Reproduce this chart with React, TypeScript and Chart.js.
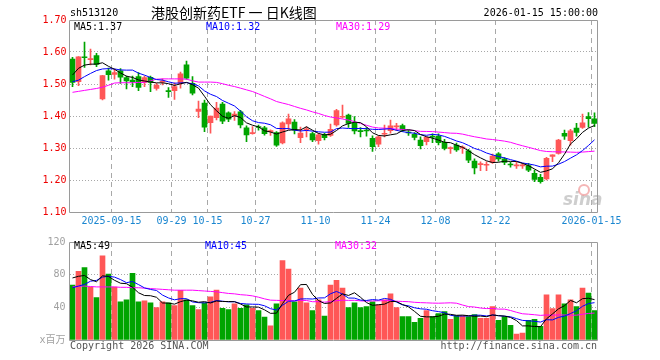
import React, { useEffect, useRef } from 'react';
import { Chart, registerables } from 'chart.js';

Chart.register(...registerables);

// ---------------- data ----------------
const TICK_INDEX = [7, 17, 23, 31, 41, 51, 61, 71, 87];
const TICK_LABELS = ['2025-09-15', '09-29', '10-15', '10-27', '11-10', '11-24', '12-08', '12-22', '2026-01-15'];
const PRICE_TICKS = [1.1, 1.2, 1.3, 1.4, 1.5, 1.6, 1.7];
const VOLUME_TICKS = [0, 40, 80, 120];

const OPEN = [1.578, 1.507, 1.584, 1.576, 1.589, 1.453, 1.541, 1.530, 1.541, 1.520,
  1.512, 1.523, 1.505, 1.521, 1.486, 1.506, 1.477, 1.479, 1.502, 1.560,
  1.502, 1.414, 1.440, 1.379, 1.395, 1.437, 1.410, 1.401, 1.413, 1.363,
  1.345, 1.366, 1.363, 1.351, 1.348, 1.316, 1.375, 1.381, 1.332, 1.357,
  1.345, 1.323, 1.342, 1.339, 1.372, 1.396, 1.403, 1.377, 1.352, 1.355,
  1.330, 1.312, 1.343, 1.354, 1.366, 1.370, 1.349, 1.343, 1.325, 1.320,
  1.336, 1.337, 1.318, 1.298, 1.309, 1.300, 1.291, 1.259, 1.248, 1.246,
  1.255, 1.282, 1.266, 1.248, 1.244, 1.244, 1.245, 1.221, 1.208, 1.203,
  1.274, 1.283, 1.346, 1.323, 1.362, 1.364, 1.398, 1.391];
const HIGH = [1.583, 1.586, 1.631, 1.609, 1.596, 1.527, 1.550, 1.547, 1.548, 1.525,
  1.525, 1.536, 1.525, 1.525, 1.502, 1.516, 1.489, 1.504, 1.537, 1.572,
  1.523, 1.447, 1.450, 1.400, 1.443, 1.443, 1.413, 1.414, 1.418, 1.369,
  1.367, 1.372, 1.368, 1.357, 1.351, 1.382, 1.406, 1.389, 1.365, 1.366,
  1.349, 1.346, 1.346, 1.375, 1.421, 1.434, 1.406, 1.398, 1.364, 1.364,
  1.338, 1.338, 1.372, 1.387, 1.377, 1.375, 1.355, 1.348, 1.335, 1.335,
  1.344, 1.344, 1.327, 1.304, 1.315, 1.307, 1.296, 1.266, 1.257, 1.257,
  1.281, 1.286, 1.270, 1.255, 1.255, 1.252, 1.252, 1.231, 1.218, 1.271,
  1.279, 1.327, 1.356, 1.358, 1.377, 1.406, 1.411, 1.410];
const LOW = [1.492, 1.495, 1.552, 1.560, 1.554, 1.450, 1.512, 1.515, 1.502, 1.485,
  1.492, 1.479, 1.492, 1.476, 1.481, 1.497, 1.458, 1.452, 1.487, 1.515,
  1.466, 1.395, 1.351, 1.346, 1.388, 1.376, 1.382, 1.386, 1.363, 1.320,
  1.343, 1.356, 1.340, 1.339, 1.305, 1.313, 1.358, 1.344, 1.317, 1.335,
  1.320, 1.312, 1.325, 1.336, 1.368, 1.393, 1.364, 1.344, 1.335, 1.337,
  1.289, 1.304, 1.335, 1.346, 1.354, 1.351, 1.339, 1.325, 1.297, 1.310,
  1.317, 1.310, 1.294, 1.283, 1.289, 1.283, 1.254, 1.219, 1.229, 1.229,
  1.252, 1.259, 1.248, 1.240, 1.236, 1.236, 1.226, 1.195, 1.190, 1.200,
  1.257, 1.281, 1.327, 1.309, 1.337, 1.361, 1.365, 1.367];
const CLOSE = [1.505, 1.585, 1.582, 1.578, 1.561, 1.526, 1.529, 1.536, 1.521, 1.510,
  1.507, 1.489, 1.520, 1.505, 1.497, 1.507, 1.476, 1.492, 1.532, 1.518,
  1.471, 1.422, 1.365, 1.400, 1.425, 1.384, 1.390, 1.406, 1.372, 1.341,
  1.347, 1.364, 1.345, 1.353, 1.309, 1.379, 1.391, 1.356, 1.347, 1.359,
  1.325, 1.341, 1.332, 1.358, 1.417, 1.398, 1.377, 1.353, 1.351, 1.353,
  1.304, 1.335, 1.345, 1.369, 1.368, 1.356, 1.347, 1.333, 1.307, 1.333,
  1.334, 1.317, 1.299, 1.300, 1.294, 1.302, 1.262, 1.238, 1.250, 1.248,
  1.275, 1.266, 1.255, 1.247, 1.246, 1.246, 1.231, 1.202, 1.195, 1.268,
  1.279, 1.325, 1.337, 1.354, 1.349, 1.379, 1.392, 1.377];
const VOLUME = [67.2, 84, 88.8, 64.8, 52, 103.2, 80.8, 64.8, 46.8, 49.2,
  81.6, 46.8, 48, 45.6, 39.6, 46.8, 45.6, 42, 60.8, 49.2,
  42, 37.2, 45.6, 52.8, 61.2, 38.8, 37.2, 44.4, 38.8, 43.2,
  38.8, 36, 28, 17.2, 44.4, 97.2, 86.8, 46.8, 63.6, 45.6,
  36, 49.2, 29.2, 67.2, 73.2, 63.6, 39.6, 45.6, 39.6, 40.8,
  46.8, 43.2, 49.2, 56.4, 39.6, 28.8, 28.8, 21.6, 26.4, 36,
  28.8, 32.4, 34.8, 25.2, 30, 30, 28.8, 31.2, 26.4, 26.4,
  40.8, 24, 28.8, 18, 7.2, 8.4, 24, 25.2, 16.8, 55.2,
  38.4, 55.2, 44.4, 49.2, 40.8, 63.6, 57.6, 36];

// moving-average values before enough history is visible
const MA5_HEAD = [1.528, 1.549, 1.559, 1.562];
const MA10_HEAD = [1.507, 1.512, 1.523, 1.533, 1.542, 1.547, 1.548, 1.547, 1.544];
const MA30_HEAD = [1.474, 1.477, 1.480, 1.483, 1.486, 1.490, 1.496, 1.503, 1.504, 1.504,
  1.504, 1.505, 1.505, 1.510, 1.515, 1.516, 1.516, 1.516, 1.516, 1.515,
  1.510, 1.506, 1.506, 1.506, 1.505, 1.501, 1.496, 1.492, 1.487];
const VMA5_HEAD = [76, 78, 79, 74];
const VMA10_HEAD = [64, 66, 68, 72, 73, 77, 78, 77, 74];
const VMA30_HEAD = [65, 66, 66, 65.5, 65, 65, 65, 65, 64.5, 64.5,
  64, 64, 63.5, 63, 62.5, 62, 61.5, 61, 61, 61,
  61, 60.5, 60, 59.5, 59, 58, 57, 56.5, 55.5];

const PRICE_LEGEND = ['MA5:1.37', 'MA10:1.32', 'MA30:1.29'];
const VOLUME_LEGEND = ['MA5:49', 'MA10:45', 'MA30:32'];

// ---------------- styles ----------------
const UP = '#ff5757';
const DOWN = '#00a400';
const MA_COLORS = ['#000000', '#0000ff', '#ff00ff'];
const MONO = '"DejaVu Sans Mono", "Liberation Mono", "Noto Sans CJK SC", monospace';
const GRID = '#a8a8a8';
const FRAME = '#9a9a9a';

function movingAverage(values: number[], n: number, head: number[]): number[] {
  return values.map((_, i) => {
    if (i < n - 1) return head[i];
    let s = 0;
    for (let k = i - n + 1; k <= i; k++) s += values[k];
    return s / n;
  });
}

const isUp = (i: number) => CLOSE[i] >= OPEN[i];

function frame(ctx: CanvasRenderingContext2D, a: any) {
  ctx.save();
  ctx.strokeStyle = FRAME;
  ctx.lineWidth = 1;
  ctx.setLineDash([]);
  const t = Math.floor(a.top) + 0.5;
  const b = Math.floor(a.bottom) + 0.5;
  ctx.beginPath();
  ctx.moveTo(a.left, t); ctx.lineTo(a.right, t);
  ctx.moveTo(a.left, b); ctx.lineTo(a.right, b);
  ctx.moveTo(a.left, t); ctx.lineTo(a.left, b);
  ctx.moveTo(a.right, t); ctx.lineTo(a.right, b);
  ctx.stroke();
  ctx.restore();
}

function xScale(showLabels: boolean) {
  return {
    type: 'linear' as const,
    min: -0.5,
    max: 87.5,
    offset: false,
    bounds: 'data' as const,
    afterBuildTicks: (s: any) => { s.ticks = TICK_INDEX.map((i) => ({ value: i - 0.5 })); },
    afterFit: (s: any) => { s.height = 20; },
    ticks: {
      display: showLabels,
      autoSkip: false,
      maxRotation: 0,
      minRotation: 0,
      color: '#1a86d0',
      font: { family: MONO, size: 10 },
      padding: 3,
      callback: (_v: any, idx: number) => TICK_LABELS[idx],
    },
    grid: { color: GRID, lineWidth: 1, drawTicks: false, offset: false },
    border: { display: false, dash: [5, 4] },
  };
}

export default function App() {
  const topRef = useRef<HTMLCanvasElement>(null);
  const volRef = useRef<HTMLCanvasElement>(null);

  useEffect(() => {
    const ma5 = movingAverage(CLOSE, 5, MA5_HEAD);
    const ma10 = movingAverage(CLOSE, 10, MA10_HEAD);
    const ma30 = movingAverage(CLOSE, 30, MA30_HEAD);
    const vma5 = movingAverage(VOLUME, 5, VMA5_HEAD);
    const vma10 = movingAverage(VOLUME, 10, VMA10_HEAD);
    const vma30 = movingAverage(VOLUME, 30, VMA30_HEAD);
    const colors = CLOSE.map((_, i) => (isUp(i) ? UP : DOWN));

    const lineDs = (vals: number[], color: string) => ({
      type: 'line' as const,
      data: vals.map((v, i) => ({ x: i, y: v })),
      borderColor: color,
      borderWidth: 1,
      pointRadius: 0,
      tension: 0,
      fill: false,
      order: 0,
    });

    const topDecor = {
      id: 'topDecor',
      beforeDatasetsDraw(chart: any) {
        const { ctx } = chart;
        ctx.save();
        // sina watermark
        ctx.fillStyle = 'rgba(190,190,190,0.75)';
        ctx.font = 'italic bold 17px "DejaVu Sans", sans-serif';
        ctx.textBaseline = 'alphabetic';
        ctx.textAlign = 'left';
        ctx.fillText('sina', 563, 205);
        ctx.strokeStyle = 'rgba(240,150,150,0.7)';
        ctx.lineWidth = 2;
        ctx.beginPath();
        ctx.arc(584, 190, 5, 0, Math.PI * 2);
        ctx.stroke();
        ctx.restore();
      },
      afterDraw(chart: any) {
        const { ctx, chartArea } = chart;
        frame(ctx, chartArea);
        ctx.save();
        ctx.textBaseline = 'middle';
        ctx.fillStyle = '#000';
        ctx.font = `10px ${MONO}`;
        ctx.textAlign = 'left';
        ctx.fillText('sh513120', 70, 13);
        ctx.textAlign = 'right';
        ctx.fillText('2026-01-15 15:00:00', 598, 13);
        ctx.textAlign = 'left';
        ctx.font = '14px "Noto Sans CJK SC", sans-serif';
        ctx.fillText('港股创新药ETF 一 日K线图', 151, 13);
        ctx.font = `10px ${MONO}`;
        const xs = [74, 206, 336];
        PRICE_LEGEND.forEach((t, k) => {
          ctx.fillStyle = MA_COLORS[k];
          ctx.fillText(t, xs[k], 27);
        });
        ctx.restore();
      },
    };

    const volDecor = {
      id: 'volDecor',
      afterDraw(chart: any) {
        const { ctx, chartArea } = chart;
        frame(ctx, chartArea);
        ctx.save();
        ctx.textBaseline = 'middle';
        ctx.font = `10px ${MONO}`;
        ctx.textAlign = 'left';
        const xs = [74, 205, 335];
        VOLUME_LEGEND.forEach((t, k) => {
          ctx.fillStyle = MA_COLORS[k];
          ctx.fillText(t, xs[k], 14);
        });
        ctx.fillStyle = '#555';
        ctx.fillText('Copyright 2026 SINA.COM', 70, 114);
        ctx.textAlign = 'right';
        ctx.fillText('http://finance.sina.com.cn', 597, 114);
        ctx.restore();
      },
    };

    const top = new Chart(topRef.current as HTMLCanvasElement, {
      type: 'bar',
      data: {
        datasets: [
          lineDs(ma5, MA_COLORS[0]),
          lineDs(ma10, MA_COLORS[1]),
          lineDs(ma30, MA_COLORS[2]),
          {
            type: 'bar',
            data: CLOSE.map((_, i) => ({ x: i, y: [OPEN[i], CLOSE[i]] })),
            backgroundColor: colors,
            borderWidth: 0,
            barThickness: 5,
            minBarLength: 1,
            grouped: false,
            order: 1,
          } as any,
          {
            type: 'bar',
            data: CLOSE.map((_, i) => ({ x: i, y: [LOW[i], HIGH[i]] })),
            backgroundColor: colors,
            borderWidth: 0,
            barThickness: 1,
            grouped: false,
            order: 2,
          } as any,
        ],
      },
      options: {
        animation: false,
        responsive: false,
        devicePixelRatio: 1,
        layout: { padding: { left: 0, right: 62.5, top: 20, bottom: 0 } },
        plugins: { legend: { display: false }, tooltip: { enabled: false } },
        scales: {
          x: xScale(true) as any,
          y: {
            type: 'linear',
            min: 1.1,
            max: 1.7,
            afterBuildTicks: (s: any) => { s.ticks = PRICE_TICKS.map((v) => ({ value: v })); },
            afterFit: (s: any) => { s.width = 69.5; },
            ticks: {
              color: '#ee0000',
              font: { family: MONO, size: 10 },
              padding: 3,
              callback: (v: any) => Number(v).toFixed(2),
            },
            grid: {
              drawTicks: false,
              lineWidth: 1,
              color: (c: any) => {
                const v = c.tick ? c.tick.value : 0;
                return v > 1.15 && v < 1.65 ? GRID : 'rgba(0,0,0,0)';
              },
            },
            border: { display: false, dash: [1, 2] },
          } as any,
        },
      },
      plugins: [topDecor],
    });

    const vol = new Chart(volRef.current as HTMLCanvasElement, {
      type: 'bar',
      data: {
        datasets: [
          lineDs(vma5, MA_COLORS[0]),
          lineDs(vma10, MA_COLORS[1]),
          lineDs(vma30, MA_COLORS[2]),
          {
            type: 'bar',
            data: VOLUME.map((v, i) => ({ x: i, y: v })),
            backgroundColor: colors,
            borderWidth: 0,
            barThickness: 5,
            grouped: false,
            order: 1,
          } as any,
        ],
      },
      options: {
        animation: false,
        responsive: false,
        devicePixelRatio: 1,
        layout: { padding: { left: 0, right: 62.5, top: 8, bottom: 0 } },
        plugins: { legend: { display: false }, tooltip: { enabled: false } },
        scales: {
          x: xScale(false) as any,
          y: {
            type: 'linear',
            min: 0,
            max: 120,
            afterBuildTicks: (s: any) => { s.ticks = VOLUME_TICKS.map((v) => ({ value: v })); },
            afterFit: (s: any) => { s.width = 69.5; },
            ticks: {
              color: '#a0a0a0',
              font: { family: MONO, size: 10 },
              padding: 4,
              callback: (v: any) => (Number(v) === 0 ? 'x百万' : String(v)),
            },
            grid: {
              drawTicks: false,
              lineWidth: 1,
              color: (c: any) => {
                const v = c.tick ? c.tick.value : 0;
                return v === 40 || v === 80 ? GRID : 'rgba(0,0,0,0)';
              },
            },
            border: { display: false, dash: [1, 2] },
          } as any,
        },
      },
      plugins: [volDecor],
    });

    return () => {
      top.destroy();
      vol.destroy();
    };
  }, []);

  return (
    <div style={{ position: 'absolute', left: 0, top: 0, width: 660, height: 360, background: '#fff', overflow: 'hidden' }}>
      <canvas ref={topRef} width={660} height={232} style={{ position: 'absolute', left: 0, top: 0, width: 660, height: 232 }} />
      <canvas ref={volRef} width={660} height={128} style={{ position: 'absolute', left: 0, top: 232, width: 660, height: 128 }} />
    </div>
  );
}
